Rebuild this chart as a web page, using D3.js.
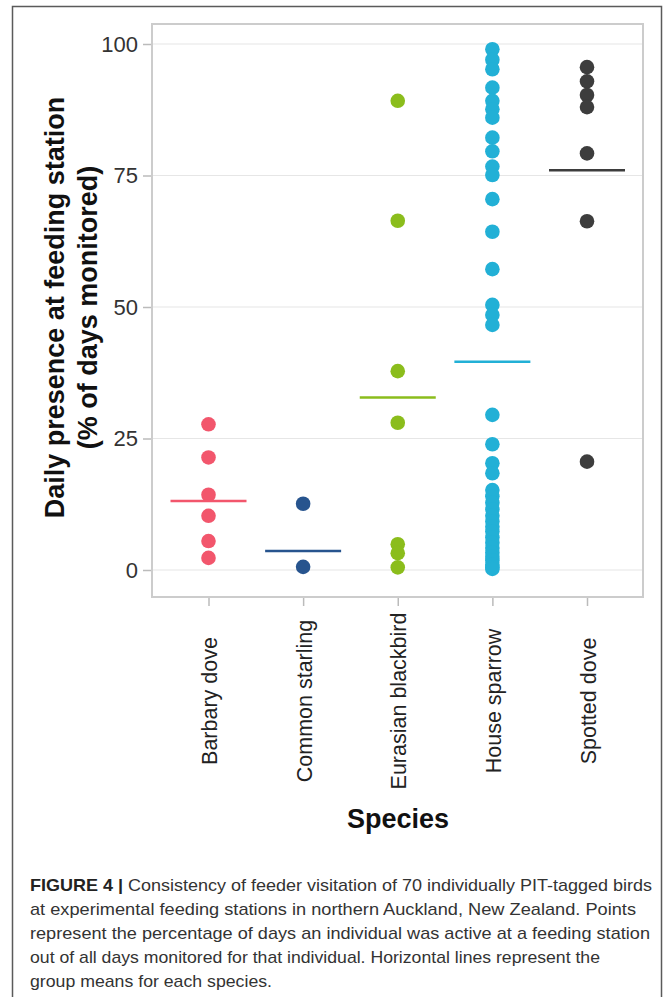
<!DOCTYPE html>
<html>
<head>
<meta charset="utf-8">
<script src="https://cdn.jsdelivr.net/npm/d3@7"></script>
<style>
  html, body { margin: 0; padding: 0; background: #fff; }
  svg { display: block; }
</style>
</head>
<body>
<svg id="chart" width="672" height="997"></svg>
<script>
const categories = ["Barbary dove", "Common starling", "Eurasian blackbird", "House sparrow", "Spotted dove"];
const colors = ["#f2566c", "#27548e", "#8bbd1c", "#22b0d6", "#3d3d3d"];
const barbaryDove = [27.7, 21.4, 14.3, 10.3, 5.5, 2.3];
const commonStarling = [12.6, 0.6];
const eurasianBlackbird = [89.2, 66.4, 37.8, 28.0, 4.9, 3.2, 0.5];
const houseSparrow = [99.0, 97.0, 95.2, 91.7, 89.2, 87.6, 86.0, 82.2, 79.6, 76.7, 75.1, 70.5, 64.3, 57.2,
  50.4, 48.5, 46.6, 29.5, 23.9, 20.3, 18.4, 15.2, 14.0, 12.8, 11.5, 10.3, 9.2, 8.2, 7.3, 6.2, 5.2, 4.2,
  3.3, 2.5, 1.8, 1.0, 0.5, 0.2];
const spottedDove = [95.6, 92.9, 90.3, 88.0, 79.2, 66.3, 20.6];
const groupMeans = [13.1, 3.6, 32.8, 39.6, 76.0];
const yTicks = [0, 25, 50, 75, 100];
const captionLines = [
  ["FIGURE 4 |", " Consistency of feeder visitation of 70 individually PIT-tagged birds"],
  ["", "at experimental feeding stations in northern Auckland, New Zealand. Points"],
  ["", "represent the percentage of days an individual was active at a feeding station"],
  ["", "out of all days monitored for that individual. Horizontal lines represent the"],
  ["", "group means for each species."]
];

const seriesValues = [barbaryDove, commonStarling, eurasianBlackbird, houseSparrow, spottedDove];
const points = [];
seriesValues.forEach((vals, i) => vals.forEach(v => points.push({ cat: categories[i], value: v, color: colors[i] })));

const svg = d3.select("#chart");
const font = "'Liberation Sans', Arial, Helvetica, sans-serif";

// outer frame
svg.append("rect").attr("x", 12.5).attr("y", 6.5).attr("width", 649).attr("height", 1000)
  .attr("fill", "none").attr("stroke", "#5a5a5a").attr("stroke-width", 1.5);

const panel = { left: 152, right: 643, top: 24, bottom: 597 };

const y = d3.scaleLinear().domain([0, 100]).range([570, 44]);
const x = d3.scalePoint().domain(categories).range([208.5, 587]);

// gridlines
svg.append("g").selectAll("line").data(yTicks).join("line")
  .attr("x1", panel.left).attr("x2", panel.right)
  .attr("y1", d => y(d)).attr("y2", d => y(d))
  .attr("stroke", "#e6e6e6").attr("stroke-width", 1.2);

// panel border
svg.append("rect").attr("x", panel.left).attr("y", panel.top)
  .attr("width", panel.right - panel.left).attr("height", panel.bottom - panel.top)
  .attr("fill", "none").attr("stroke", "#cccccc").attr("stroke-width", 2);

// y axis
const yAxis = svg.append("g").attr("transform", `translate(${panel.left - 1},0)`)
  .call(d3.axisLeft(y).tickValues(yTicks).tickSize(8).tickPadding(5).tickFormat(d3.format("d")));
yAxis.select(".domain").remove();
yAxis.selectAll(".tick line").attr("stroke", "#bbbbbb").attr("stroke-width", 1.5);
yAxis.selectAll(".tick text").attr("font-family", font).attr("font-size", 22).attr("fill", "#333");

// x axis
const xAxis = svg.append("g").attr("transform", `translate(0,${panel.bottom + 1})`)
  .call(d3.axisBottom(x).tickSize(8).tickPadding(0));
xAxis.select(".domain").remove();
xAxis.selectAll(".tick line").attr("stroke", "#bbbbbb").attr("stroke-width", 1.5);
xAxis.selectAll(".tick text")
  .attr("font-family", font).attr("font-size", 21.5).attr("fill", "#222")
  .attr("text-anchor", "middle").attr("dy", null).attr("y", null)
  .attr("transform", "translate(8,103) rotate(-90)");

// points
svg.append("g").selectAll("circle").data(points).join("circle")
  .attr("cx", d => x(d.cat)).attr("cy", d => y(d.value)).attr("r", 7.3)
  .attr("fill", d => d.color);

// mean lines
svg.append("g").selectAll("line").data(groupMeans).join("line")
  .attr("x1", (d, i) => x(categories[i]) - 38).attr("x2", (d, i) => x(categories[i]) + 38)
  .attr("y1", d => y(d)).attr("y2", d => y(d))
  .attr("stroke", (d, i) => colors[i]).attr("stroke-width", 2.5);

// axis titles
const yTitle = svg.append("text").attr("font-family", font).attr("font-weight", "bold")
  .attr("font-size", 27).attr("fill", "#111").attr("text-anchor", "middle")
  .attr("transform", `translate(64,${(panel.top + panel.bottom) / 2 - 3}) rotate(-90)`);
yTitle.append("tspan").attr("x", 0).attr("dy", 0).text("Daily presence at feeding station");
yTitle.append("tspan").attr("x", 0).attr("dy", 33).text("(% of days monitored)");

svg.append("text").attr("x", 398).attr("y", 828).attr("font-family", font).attr("font-weight", "bold")
  .attr("font-size", 27).attr("fill", "#111").attr("text-anchor", "middle").text("Species");

// caption
const lineWidths = [622, 606, 620, 570, 242];
captionLines.forEach((ln, i) => {
  const t = svg.append("text").attr("x", 30).attr("y", 891 + i * 24)
    .attr("font-family", font).attr("font-size", 17).attr("fill", "#333")
    .attr("textLength", lineWidths[i]).attr("lengthAdjust", "spacingAndGlyphs");
  if (ln[0]) t.append("tspan").attr("font-weight", "bold").attr("fill", "#222").text(ln[0]);
  t.append("tspan").text(ln[1]);
});
</script>
</body>
</html>
